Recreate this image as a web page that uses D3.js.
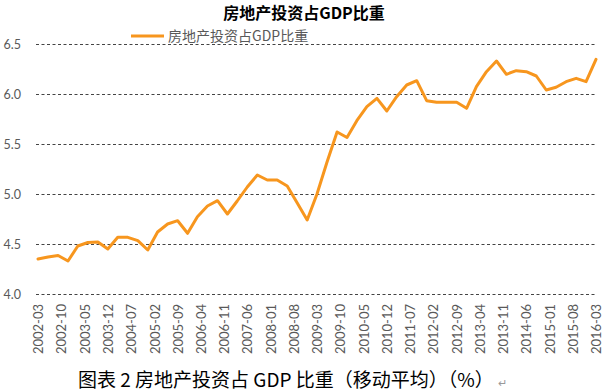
<!DOCTYPE html>
<html>
<head>
<meta charset="utf-8">
<script src="https://cdn.jsdelivr.net/npm/d3@7"></script>
<style>
  body { margin: 0; background: #fff; }
  svg { display: block; }
</style>
</head>
<body>
<svg id="chart"></svg>
<script>
// 房地产投资占GDP比重, quarterly, 2002-03 .. 2016-03
const startMonth = '2002-03';
const ratio = [
  4.35, 4.37, 4.385, 4.33, 4.48, 4.515, 4.52, 4.45,
  4.567, 4.567, 4.533, 4.44, 4.62, 4.70, 4.733, 4.607,
  4.773, 4.88, 4.933, 4.80, 4.93, 5.07, 5.19, 5.14,
  5.14, 5.08, 4.91, 4.74, 5.00, 5.32, 5.62, 5.565,
  5.733, 5.873, 5.957, 5.83, 5.973, 6.09, 6.133, 5.933,
  5.917, 5.917, 5.917, 5.857, 6.073, 6.223, 6.33, 6.197,
  6.233, 6.223, 6.18, 6.04, 6.067, 6.123, 6.157, 6.123, 6.347
];
const xTickLabels = [
  '2002-03', '2002-10', '2003-05', '2003-12', '2004-07', '2005-02', '2005-09',
  '2006-04', '2006-11', '2007-06', '2008-01', '2008-08', '2009-03', '2009-10',
  '2010-05', '2010-12', '2011-07', '2012-02', '2012-09', '2013-04', '2013-11',
  '2014-06', '2015-01', '2015-08', '2016-03'
];
const yTicks = [4.0, 4.5, 5.0, 5.5, 6.0, 6.5];

const title = '房地产投资占GDP比重';
const seriesName = '房地产投资占GDP比重';
const caption = '图表 2 房地产投资占 GDP 比重（移动平均）（%）';

const width = 609, height = 391;
const plotLeft = 38, plotRight = 596, plotTop = 44, plotBottom = 294;
const cjk = '"Noto Sans CJK SC", "Noto Sans", sans-serif';
const num = 'Lato, "Open Sans", sans-serif';
const grey = '#595959';
const orange = '#F7961E';

const parseMonth = d3.timeParse('%Y-%m');
const t0 = parseMonth(startMonth);
const data = ratio.map((v, i) => ({ date: d3.timeMonth.offset(t0, i * 3), value: v }));

const xScale = d3.scaleTime()
  .domain([t0, parseMonth(xTickLabels[xTickLabels.length - 1])])
  .range([plotLeft, plotRight]);

const yScale = d3.scaleLinear()
  .domain([4.0, 6.5])
  .range([plotBottom, plotTop]);

const svg = d3.select('#chart')
  .attr('width', width)
  .attr('height', height);

// gridlines + y labels
const yAxis = d3.axisLeft(yScale)
  .tickValues(yTicks)
  .tickSize(-(plotRight - plotLeft + 2))
  .tickFormat(d3.format('.1f'));

svg.append('g')
  .attr('class', 'y axis')
  .attr('transform', `translate(${plotLeft - 2},0)`)
  .call(yAxis)
  .call(g => g.select('.domain').remove())
  .call(g => g.selectAll('.tick line')
    .attr('stroke', '#444')
    .attr('stroke-width', 1)
    .attr('stroke-dasharray', '3,2.5'))
  .call(g => g.selectAll('.tick text')
    .attr('x', -15)
    .attr('fill', grey)
    .style('font-family', num)
    .style('font-size', '12.5px'));

// x labels (rotated)
const xAxis = d3.axisBottom(xScale)
  .tickValues(xTickLabels.map(parseMonth))
  .tickSize(0)
  .tickFormat(d3.timeFormat('%Y-%m'));

svg.append('g')
  .attr('class', 'x axis')
  .attr('transform', `translate(0,${plotBottom})`)
  .call(xAxis)
  .call(g => g.select('.domain').remove())
  .call(g => g.selectAll('.tick text')
    .attr('transform', 'rotate(-90)')
    .attr('x', -10)
    .attr('y', 0)
    .attr('dy', '0.35em')
    .attr('text-anchor', 'end')
    .attr('fill', grey)
    .style('font-family', num)
    .style('font-size', '13px'));

// series line
const line = d3.line()
  .x(d => xScale(d.date))
  .y(d => yScale(d.value));

svg.append('path')
  .datum(data)
  .attr('fill', 'none')
  .attr('stroke', orange)
  .attr('stroke-width', 3)
  .attr('stroke-linejoin', 'round')
  .attr('stroke-linecap', 'round')
  .attr('d', line);

// title
svg.append('text')
  .attr('x', 304)
  .attr('y', 19)
  .attr('text-anchor', 'middle')
  .attr('fill', '#000')
  .style('font-family', cjk)
  .style('font-size', '16px')
  .style('font-weight', 'bold')
  .text(title);

// legend
svg.append('line')
  .attr('x1', 131).attr('x2', 164)
  .attr('y1', 36).attr('y2', 36)
  .attr('stroke', orange)
  .attr('stroke-width', 3);

svg.append('text')
  .attr('x', 168)
  .attr('y', 41)
  .attr('fill', grey)
  .style('font-family', cjk)
  .style('font-size', '14px')
  .text(seriesName);

// caption
const cap = svg.append('text')
  .attr('x', 78)
  .attr('y', 387)
  .attr('fill', '#000')
  .style('font-family', cjk)
  .style('font-size', '19px');
cap.append('tspan').text(caption);
cap.append('tspan')
  .attr('dx', 4)
  .attr('fill', '#999')
  .style('font-size', '11px')
  .text('↵');
</script>
</body>
</html>
